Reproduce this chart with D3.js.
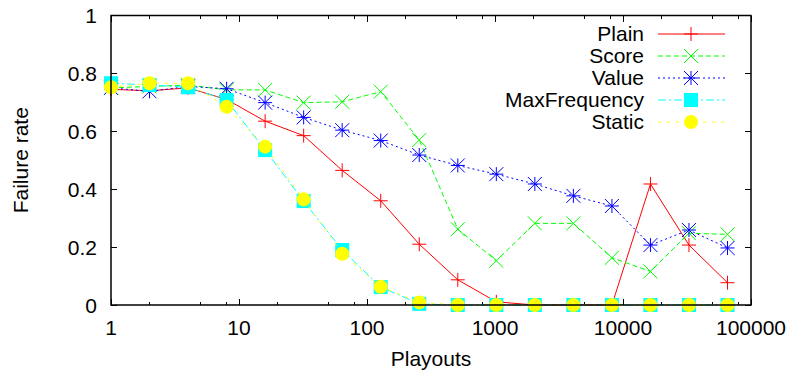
<!DOCTYPE html>
<html>
<head>
<meta charset="utf-8">
<script src="https://cdn.jsdelivr.net/npm/d3@7"></script>
<style>
  body { margin: 0; background: #fff; }
  svg { display: block; }
  text { font-family: "Liberation Sans", Arial, Helvetica, sans-serif; font-size: 21px; fill: #000; }
</style>
</head>
<body>
<script>
// playouts (x) and failure rates per method
var playouts = [1, 2, 4, 8, 16, 32, 64, 128, 256, 512, 1024, 2048, 4096, 8192, 16384, 32768, 65536];
var plain = [0.745, 0.74, 0.75, 0.71, 0.635, 0.585, 0.465, 0.36, 0.21, 0.087, 0.011, 0.0, 0.0, 0.0, 0.418, 0.207, 0.077];
var score = [0.75, 0.755, 0.76, 0.743, 0.743, 0.699, 0.702, 0.737, 0.57, 0.262, 0.153, 0.282, 0.282, 0.163, 0.116, 0.248, 0.244];
var value = [0.75, 0.738, 0.755, 0.747, 0.699, 0.648, 0.604, 0.568, 0.518, 0.482, 0.452, 0.418, 0.377, 0.342, 0.207, 0.259, 0.197];
var maxFrequency = [0.766, 0.76, 0.752, 0.708, 0.535, 0.359, 0.19, 0.062, 0.004, 0, 0, 0, 0, 0, 0, 0, 0];
var staticRate = [0.752, 0.766, 0.766, 0.685, 0.547, 0.365, 0.177, 0.063, 0.009, 0, 0, 0, 0, 0, 0, 0, 0];

var seriesNames = ['Plain', 'Score', 'Value', 'MaxFrequency', 'Static'];
var xTicks = [1, 10, 100, 1000, 10000, 100000];
var xMinor = [2, 5, 8, 20, 50, 80, 200, 500, 800, 2000, 5000, 8000, 20000, 50000, 80000];
var yTicks = [0, 0.2, 0.4, 0.6, 0.8, 1];

function drawChart()
{
var width = 794, height = 376;
var pLeft = 111, pRight = 751, pTop = 15.5, pBottom = 305;

var x = d3.scaleLog().domain([1, 100000]).range([pLeft, pRight]);
var y = d3.scaleLinear().domain([0, 1]).range([pBottom, pTop]);

var svg = d3.select('body').append('svg').attr('width', width).attr('height', height);

// ticks (mirrored, pointing inward)
var tk = svg.append('g').attr('stroke', '#000').attr('stroke-width', 1).attr('shape-rendering', 'crispEdges');
xTicks.forEach(function(t) {
  tk.append('line').attr('x1', x(t)).attr('x2', x(t)).attr('y1', pBottom).attr('y2', pBottom - 6);
  tk.append('line').attr('x1', x(t)).attr('x2', x(t)).attr('y1', pTop).attr('y2', pTop + 6);
});
xMinor.forEach(function(t) {
  tk.append('line').attr('x1', x(t)).attr('x2', x(t)).attr('y1', pBottom).attr('y2', pBottom - 3);
  tk.append('line').attr('x1', x(t)).attr('x2', x(t)).attr('y1', pTop).attr('y2', pTop + 3);
});
yTicks.forEach(function(t) {
  tk.append('line').attr('x1', pLeft).attr('x2', pLeft + 6).attr('y1', y(t)).attr('y2', y(t));
  tk.append('line').attr('x1', pRight).attr('x2', pRight - 6).attr('y1', y(t)).attr('y2', y(t));
});

// tick labels
svg.append('g').selectAll('text').data(xTicks).enter().append('text')
  .attr('x', function(d) { return x(d); }).attr('y', 335)
  .attr('text-anchor', 'middle').text(function(d) { return d; });
svg.append('g').selectAll('text').data(yTicks).enter().append('text')
  .attr('x', 97).attr('y', function(d) { return y(d) + 7.5; })
  .attr('text-anchor', 'end').text(function(d) { return d; });

svg.append('text').attr('x', (pLeft + pRight) / 2).attr('y', 366).attr('text-anchor', 'middle').text('Playouts');
svg.append('text').attr('transform', 'translate(28,' + ((pTop + pBottom) / 2) + ') rotate(-90)')
  .attr('text-anchor', 'middle').text('Failure rate');

// point symbols
function plus(g, cx, cy, c) {
  g.append('path').attr('d', 'M' + (cx - 7) + ',' + cy + 'h14M' + cx + ',' + (cy - 7) + 'v14')
    .attr('stroke', c).attr('fill', 'none');
}
function cross(g, cx, cy, c) {
  g.append('path').attr('d', 'M' + (cx - 7) + ',' + (cy - 7) + 'l14,14M' + (cx - 7) + ',' + (cy + 7) + 'l14,-14')
    .attr('stroke', c).attr('fill', 'none');
}
function star(g, cx, cy, c) { plus(g, cx, cy, c); cross(g, cx, cy, c); }
function square(g, cx, cy, c) {
  g.append('rect').attr('x', cx - 7).attr('y', cy - 7).attr('width', 14).attr('height', 14).attr('fill', c);
}
function circle(g, cx, cy, c) {
  g.append('circle').attr('cx', cx).attr('cy', cy).attr('r', 7).attr('fill', c);
}

var series = [
  { name: seriesNames[0], vals: plain, color: '#ff0000', dash: null, mark: plus },
  { name: seriesNames[1], vals: score, color: '#00ff00', dash: '5,3', mark: cross },
  { name: seriesNames[2], vals: value, color: '#0000ff', dash: '2,3', mark: star },
  { name: seriesNames[3], vals: maxFrequency, color: '#00ffff', dash: '8,3,2,3', mark: square },
  { name: seriesNames[4], vals: staticRate, color: '#ffff00', dash: '3,6', mark: circle }
];

var line = d3.line().x(function(d) { return x(d[0]); }).y(function(d) { return y(d[1]); });
var plot = svg.append('g');

series.forEach(function(s, i) {
  var pts = playouts.map(function(p, j) { return [p, s.vals[j]]; });
  var g = plot.append('g');
  g.append('path').attr('d', line(pts)).attr('fill', 'none')
    .attr('stroke', s.color).attr('stroke-width', 1).attr('stroke-dasharray', s.dash);
  pts.forEach(function(p) { s.mark(g, x(p[0]), y(p[1]), s.color); });

  // legend entry
  var ly = 34 + i * 22;
  svg.append('text').attr('x', 644).attr('y', ly + 7).attr('text-anchor', 'end').text(s.name);
  svg.append('line').attr('x1', 658).attr('x2', 725).attr('y1', ly).attr('y2', ly)
    .attr('stroke', s.color).attr('stroke-width', 1).attr('stroke-dasharray', s.dash);
  s.mark(svg, 691, ly, s.color);
});

// border
svg.append('rect').attr('x', pLeft).attr('y', pTop).attr('width', pRight - pLeft).attr('height', pBottom - pTop)
  .attr('fill', 'none').attr('stroke', '#000').attr('stroke-width', 1.5);
}

drawChart();
</script>
</body>
</html>
